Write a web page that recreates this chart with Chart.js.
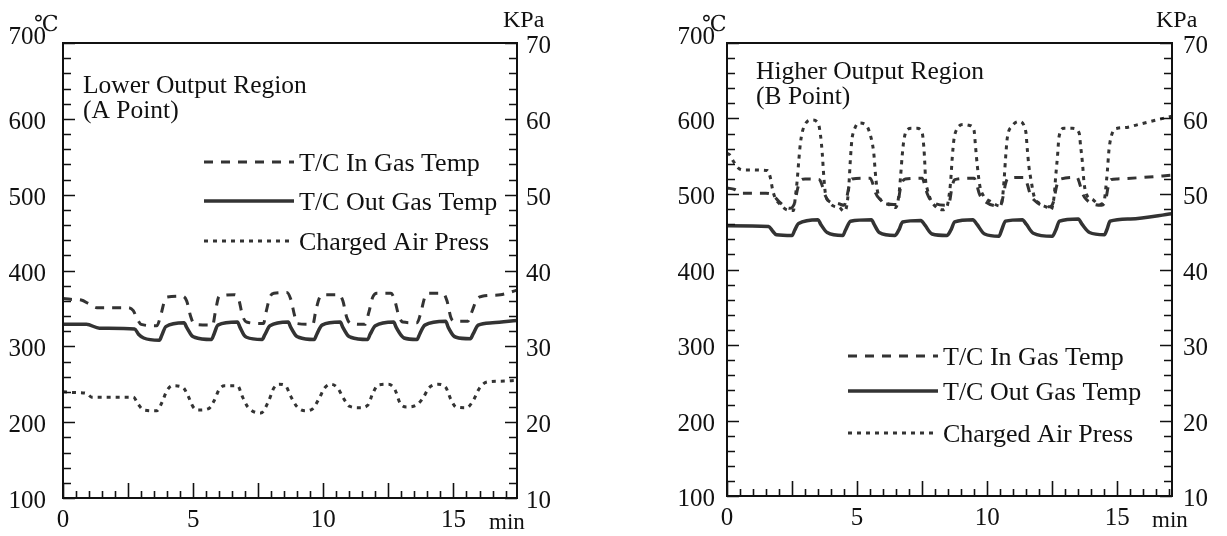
<!DOCTYPE html>
<html lang="en">
<head>
<meta charset="UTF-8">
<title>T/C Gas Temp and Charged Air Press</title>
<script src="https://cdn.jsdelivr.net/npm/chart.js@4.4.1/dist/chart.umd.min.js"></script>
<style>
  html, body { margin: 0; padding: 0; background: #fff; }
  body { width: 1227px; height: 536px; position: relative; overflow: hidden; }
  canvas { position: absolute; top: 0; }
  #chartA { left: 0; }
  #chartB { left: 620px; }
</style>
</head>
<body>
<canvas id="chartA" width="600" height="536"></canvas>
<canvas id="chartB" width="607" height="536"></canvas>
<script>
// tick labels
const tempTicks = [100, 200, 300, 400, 500, 600, 700];
const pressTicks = [10, 20, 30, 40, 50, 60, 70];
const minTicks = [0, 5, 10, 15];
const seriesNames = ['T/C In Gas Temp', 'T/C Out Gas Temp', 'Charged Air Press'];

// Lower Output Region (A Point)
const aInTime = [0, 0.3, 0.7, 1.0, 1.3, 2.5, 2.7, 2.85, 3.0, 3.6, 3.75, 3.9, 4.0, 4.6, 4.75, 4.9, 5.05, 5.75, 5.85, 6.0, 6.6, 6.75, 6.9, 7.05, 7.7, 7.8, 7.95, 8.1, 8.6, 8.75, 8.9, 9.0, 9.6, 9.7, 9.85, 10.0, 10.6, 10.75, 10.9, 11.05, 11.6, 11.75, 11.9, 12.05, 12.6, 12.75, 12.9, 13.05, 13.6, 13.75, 13.9, 14.05, 14.6, 14.75, 14.9, 15.05, 15.55, 15.7, 15.9, 16.1, 16.8, 17.44];
const aInTemp = [363, 362, 361, 356, 351, 351, 347, 336, 329, 327, 340, 360, 365, 366, 360, 340, 329, 328, 345, 366, 368, 362, 340, 332, 330, 345, 365, 370, 371, 362, 340, 330, 329, 345, 364, 368, 368, 360, 338, 330, 329, 345, 365, 370, 370, 360, 340, 332, 331, 345, 365, 370, 370, 360, 338, 333, 333, 345, 362, 366, 368, 374];
const aOutTime = [0, 0.9, 1.4, 2.75, 2.9, 3.1, 3.7, 3.8, 3.95, 4.65, 4.75, 4.95, 5.05, 5.7, 5.8, 5.95, 6.7, 6.8, 6.95, 7.05, 7.65, 7.75, 7.95, 8.65, 8.75, 8.95, 9.05, 9.65, 9.75, 9.95, 10.65, 10.75, 10.95, 11.05, 11.7, 11.8, 12.0, 12.7, 12.8, 13.0, 13.1, 13.6, 13.7, 13.9, 14.7, 14.8, 15.0, 15.1, 15.65, 15.75, 15.95, 16.5, 17.44];
const aOutTemp = [329, 329, 324, 323, 316, 311, 308, 315, 326, 331, 325, 314, 312, 309, 316, 328, 332, 325, 315, 312, 309, 315, 327, 332, 325, 314, 312, 309, 316, 328, 332, 325, 314, 312, 309, 316, 327, 332, 325, 314, 311, 309, 316, 328, 333, 325, 314, 312, 310, 316, 328, 331, 334];
const aAirTime = [0, 0.5, 0.9, 1.1, 2.7, 2.9, 3.1, 3.6, 3.8, 4.0, 4.2, 4.6, 4.8, 5.0, 5.2, 5.6, 5.8, 6.0, 6.2, 6.7, 6.9, 7.1, 7.6, 7.9, 8.1, 8.3, 8.55, 8.75, 9.0, 9.3, 9.6, 9.85, 10.05, 10.3, 10.55, 10.8, 11.0, 11.4, 11.7, 11.9, 12.1, 12.5, 12.75, 12.95, 13.2, 13.6, 13.85, 14.05, 14.4, 14.7, 14.9, 15.1, 15.5, 15.75, 16.0, 16.3, 16.8, 17.44];
const aAirPress = [24.0, 23.9, 23.8, 23.3, 23.3, 22.3, 21.6, 21.5, 22.6, 24.2, 24.8, 24.6, 23.5, 22.0, 21.6, 21.8, 22.8, 24.3, 24.8, 24.8, 23.3, 22.0, 21.2, 22.8, 24.5, 25.0, 24.8, 23.4, 22.0, 21.5, 21.8, 23.2, 24.5, 25.0, 24.5, 23.0, 22.1, 21.9, 22.2, 23.8, 24.9, 25.0, 24.3, 22.5, 22.0, 22.3, 23.3, 24.5, 25.0, 24.6, 23.0, 22.0, 21.9, 22.8, 24.5, 25.3, 25.4, 25.5];

// Higher Output Region (B Point)
const bInTime = [0, 0.3, 0.6, 1.5, 1.75, 2.0, 2.4, 2.6, 2.7, 2.8, 3.0, 3.55, 3.65, 3.75, 3.9, 4.3, 4.5, 4.6, 4.7, 4.8, 5.5, 5.6, 5.7, 5.85, 6.4, 6.55, 6.65, 6.75, 6.85, 7.5, 7.6, 7.7, 7.85, 8.4, 8.55, 8.65, 8.75, 9.5, 9.6, 9.7, 9.85, 10.5, 10.6, 10.7, 10.8, 11.45, 11.55, 11.65, 11.8, 12.4, 12.55, 12.65, 12.75, 13.45, 13.55, 13.65, 13.8, 14.4, 14.55, 14.65, 14.75, 15.0, 16.0, 17.1];
const bInTemp = [508, 506, 501, 501, 499, 490, 481, 488, 505, 517, 520, 519, 512, 500, 491, 487, 485, 495, 512, 520, 521, 514, 502, 494, 486, 486, 505, 517, 520, 521, 512, 500, 491, 485, 490, 510, 519, 521, 512, 500, 492, 484, 495, 513, 521, 522, 512, 500, 492, 483, 490, 508, 519, 522, 514, 502, 493, 485, 492, 510, 519, 520, 522, 525];
const bOutTime = [0, 1.6, 1.75, 1.9, 2.5, 2.6, 2.75, 3.5, 3.6, 3.85, 4.45, 4.55, 4.75, 5.55, 5.65, 5.85, 6.45, 6.6, 6.75, 7.45, 7.6, 7.88, 8.45, 8.6, 8.75, 9.45, 9.6, 9.9, 10.45, 10.55, 10.7, 11.35, 11.5, 11.77, 12.5, 12.63, 12.78, 13.5, 13.64, 13.93, 14.5, 14.6, 14.72, 15.5, 17.1];
const bOutTemp = [458, 457, 451, 446, 445, 452, 461, 466, 460, 449, 445, 452, 464, 466, 460, 449, 445, 452, 463, 465, 459, 447, 445, 452, 463, 466, 460, 447, 444, 452, 464, 466, 460, 448, 444, 452, 464, 467, 460, 449, 446, 453, 464, 467, 474];
const bAirTime = [0, 0.1, 0.25, 0.45, 0.6, 1.55, 1.67, 1.75, 1.85, 2.05, 2.3, 2.55, 2.63, 2.7, 2.76, 2.82, 2.9, 3.08, 3.27, 3.5, 3.6, 3.66, 3.72, 3.78, 3.91, 4.1, 4.3, 4.49, 4.6, 4.68, 4.74, 4.8, 4.87, 5.06, 5.32, 5.5, 5.64, 5.7, 5.77, 5.96, 6.22, 6.47, 6.6, 6.67, 6.73, 6.8, 6.92, 7.1, 7.3, 7.5, 7.57, 7.6, 7.63, 7.7, 7.82, 8.0, 8.27, 8.46, 8.53, 8.59, 8.66, 8.72, 8.85, 9.1, 9.3, 9.49, 9.55, 9.62, 9.72, 9.87, 10.13, 10.5, 10.58, 10.64, 10.71, 10.77, 10.96, 11.22, 11.48, 11.54, 11.6, 11.7, 11.8, 11.99, 12.31, 12.44, 12.57, 12.63, 12.7, 12.76, 12.95, 13.27, 13.53, 13.59, 13.66, 13.72, 13.85, 14.04, 14.3, 14.49, 14.55, 14.62, 14.68, 14.81, 15.0, 15.3, 15.8, 16.5, 17.1];
const bAirPress = [55.4, 55.2, 54.3, 53.4, 53.2, 53.1, 52.1, 50.6, 49.5, 48.6, 47.9, 47.8, 49.7, 51.9, 54.5, 56.7, 58.3, 59.6, 59.8, 59.4, 57.6, 55.4, 52.3, 50.1, 49.0, 48.4, 48.3, 47.7, 48.4, 51.0, 54.5, 57.2, 58.3, 59.4, 59.2, 57.9, 55.4, 52.8, 50.6, 49.0, 48.6, 48.2, 49.7, 52.3, 55.0, 57.2, 58.5, 58.7, 58.7, 58.1, 55.9, 54.1, 51.9, 50.6, 49.3, 48.4, 47.9, 48.4, 49.7, 51.5, 55.0, 57.2, 58.7, 59.2, 59.1, 58.5, 56.3, 53.7, 51.0, 49.7, 49.0, 48.4, 49.3, 51.5, 55.0, 57.4, 59.0, 59.6, 58.3, 55.9, 53.7, 51.5, 49.7, 48.8, 48.2, 47.9, 49.7, 52.3, 55.0, 57.6, 58.7, 58.7, 58.1, 56.3, 54.1, 51.5, 49.7, 49.3, 48.6, 49.0, 50.6, 53.2, 55.9, 58.1, 58.7, 58.8, 59.2, 59.8, 60.3];

const FONT = '"Liberation Serif", "DejaVu Serif", "Times New Roman", serif';
const INK = '#111';
const PEN = '#333';

function pts(t, v) {
  return t.map((x, i) => ({ x: x, y: v[i] }));
}

// frame, inward ticks, tick labels, units, legend and notes
const decorPlugin = {
  id: 'decor',
  afterDatasetsDraw(chart, args, o) {
    const ctx = chart.ctx;
    const a = chart.chartArea;
    const x = chart.scales.x, y = chart.scales.y, y2 = chart.scales.y2;
    ctx.save();

    ctx.strokeStyle = INK;
    ctx.lineWidth = 2;
    ctx.strokeRect(a.left, a.top, a.right - a.left, a.bottom - a.top);

    ctx.lineWidth = 1.6;
    ctx.beginPath();
    for (let v = y.min; v <= y.max; v += 20) {
      const py = Math.round(y.getPixelForValue(v)) + 0.5;
      const len = v % 100 === 0 ? 12 : 8;
      ctx.moveTo(a.left, py); ctx.lineTo(a.left + len, py);
    }
    for (let v = y2.min; v <= y2.max; v += 2) {
      const py = Math.round(y2.getPixelForValue(v)) + 0.5;
      const len = v % 10 === 0 ? 12 : 8;
      ctx.moveTo(a.right, py); ctx.lineTo(a.right - len, py);
    }
    for (let t = 0; t <= x.max; t += 0.5) {
      const px = Math.round(x.getPixelForValue(t)) + 0.5;
      const len = t % 2.5 === 0 ? 15 : 7;
      ctx.moveTo(px, a.bottom); ctx.lineTo(px, a.bottom - len);
    }
    ctx.stroke();

    ctx.fillStyle = INK;
    ctx.font = '25px ' + FONT;
    ctx.textBaseline = 'alphabetic';
    ctx.textAlign = 'right';
    tempTicks.forEach(v => {
      let py = y.getPixelForValue(v) + 10;
      if (v === y.max) py -= 9;
      ctx.fillText(String(v), a.left - o.leftGap, py);
    });
    ctx.textAlign = 'left';
    pressTicks.forEach(v => {
      ctx.fillText(String(v), a.right + o.rightGap, y2.getPixelForValue(v) + 10);
    });
    ctx.textAlign = 'center';
    minTicks.forEach(t => {
      ctx.fillText(String(t), x.getPixelForValue(t), a.bottom + 29);
    });

    // units
    ctx.textAlign = 'left';
    ctx.font = '22px ' + FONT;
    ctx.fillText('\u2103', a.left + o.degX, 31);
    ctx.font = '24px ' + FONT;
    ctx.fillText('KPa', a.right + o.kpaX, 27);
    ctx.font = '23px ' + FONT;
    ctx.fillText('min', a.right + o.minX, a.bottom + 31);

    // notes
    ctx.font = '25.5px ' + FONT;
    o.notes.forEach((s, i) => ctx.fillText(s, o.noteX, o.noteY[i]));

    // legend
    chart.data.datasets.forEach((ds, i) => {
      const ly = o.legendY[i];
      ctx.strokeStyle = ds.borderColor;
      ctx.lineWidth = ds.borderWidth;
      ctx.setLineDash(ds.borderDash || []);
      ctx.beginPath();
      ctx.moveTo(o.legendX, ly);
      ctx.lineTo(o.legendX + 90, ly);
      ctx.stroke();
      ctx.setLineDash([]);
      ctx.fillStyle = INK;
      ctx.font = '26px ' + FONT;
      ctx.fillText(ds.label, o.legendX + 95, ly + 9);
    });
    ctx.restore();
  }
};

function makeChart(id, xMax, series, o) {
  const common = {
    borderColor: PEN,
    pointRadius: 0,
    fill: false,
    cubicInterpolationMode: 'monotone',
    borderCapStyle: 'butt',
    borderJoinStyle: 'round'
  };
  return new Chart(document.getElementById(id), {
    type: 'line',
    data: {
      datasets: [
        Object.assign({ label: seriesNames[0], data: series[0], yAxisID: 'y', borderWidth: 3, borderDash: [9, 8] }, common),
        Object.assign({ label: seriesNames[1], data: series[1], yAxisID: 'y', borderWidth: 3.5 }, common),
        Object.assign({ label: seriesNames[2], data: series[2], yAxisID: 'y2', borderWidth: 3, borderDash: [4, 5] }, common)
      ]
    },
    options: {
      responsive: false,
      animation: false,
      devicePixelRatio: 1,
      layout: { padding: { top: 43, left: 0, right: 0, bottom: 0 } },
      plugins: {
        legend: { display: false },
        tooltip: { enabled: false },
        decor: o
      },
      scales: {
        x: {
          type: 'linear', min: 0, max: xMax,
          grid: { display: false, drawTicks: false }, border: { display: false },
          ticks: { display: false },
          afterFit(s) { s.height = o.bottomSpace; }
        },
        y: {
          type: 'linear', position: 'left', min: 100, max: 700,
          grid: { display: false, drawTicks: false }, border: { display: false },
          ticks: { display: false },
          afterFit(s) { s.width = o.leftSpace; }
        },
        y2: {
          type: 'linear', position: 'right', min: 10, max: 70,
          grid: { display: false, drawTicks: false }, border: { display: false },
          ticks: { display: false },
          afterFit(s) { s.width = o.rightSpace; }
        }
      }
    },
    plugins: [decorPlugin]
  });
}

makeChart('chartA', 17.44,
  [pts(aInTime, aInTemp), pts(aOutTime, aOutTemp), pts(aAirTime, aAirPress)],
  {
    leftSpace: 63, rightSpace: 83, bottomSpace: 38,
    leftGap: 17, rightGap: 9, degX: -29, kpaX: -14, minX: -28,
    notes: ['Lower Output Region', '(A Point)'], noteX: 83, noteY: [93, 118],
    legendX: 204, legendY: [162, 201, 241]
  });

makeChart('chartB', 17.1,
  [pts(bInTime, bInTemp), pts(bOutTime, bOutTemp), pts(bAirTime, bAirPress)],
  {
    leftSpace: 107, rightSpace: 55, bottomSpace: 40,
    leftGap: 12, rightGap: 11, degX: -25, kpaX: -16, minX: -20,
    notes: ['Higher Output Region', '(B Point)'], noteX: 136, noteY: [79, 104],
    legendX: 228, legendY: [356, 391, 433]
  });
</script>
</body>
</html>
